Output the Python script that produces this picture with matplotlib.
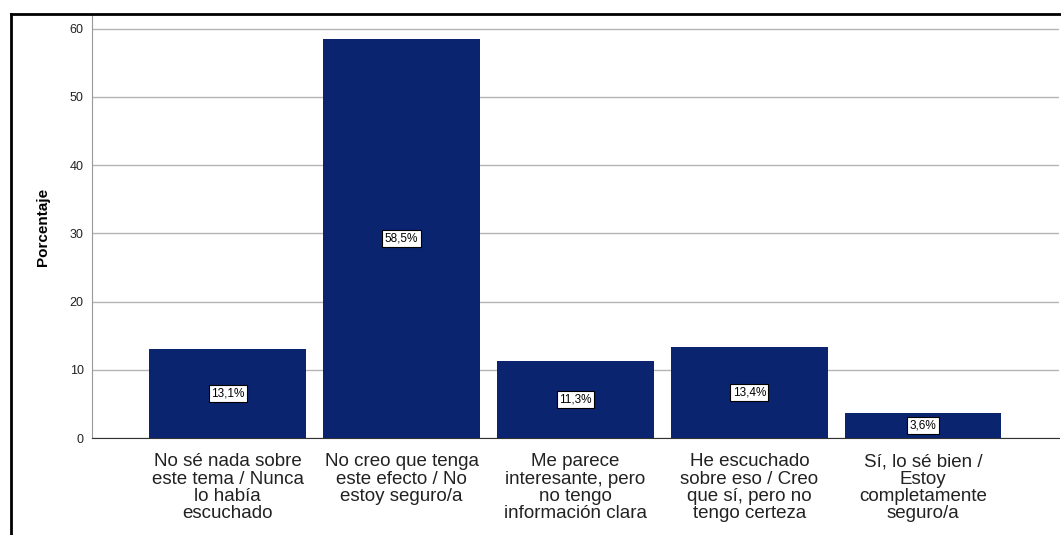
import matplotlib.pyplot as plt
from matplotlib.lines import Line2D

categories = [
    "No sé nada sobre\neste tema / Nunca\nlo había\nescuchado",
    "No creo que tenga\neste efecto / No\nestoy seguro/a",
    "Me parece\ninteresante, pero\nno tengo\ninformación clara",
    "He escuchado\nsobre eso / Creo\nque sí, pero no\ntengo certeza",
    "Sí, lo sé bien /\nEstoy\ncompletamente\nseguro/a",
]
values = [13.1, 58.5, 11.3, 13.4, 3.6]
yticks = [0, 10, 20, 30, 40, 50, 60]

plt.rcParams['font.family'] = ['Liberation Sans', 'DejaVu Sans']

fig = plt.figure(figsize=(10.61, 5.35), dpi=100)
ax = fig.add_axes([0.0867, 0.1813, 0.9113, 0.7907])

x = list(range(len(values)))
bars = ax.bar(x, values, width=0.9, color='#0b2470', zorder=3)

for b, v in zip(bars, values):
    ax.text(b.get_x() + b.get_width() / 2, v / 2, f"{v:.1f}%".replace('.', ','),
            ha='center', va='center', fontsize=8.5, zorder=4,
            bbox=dict(boxstyle='square,pad=0.2', fc='white', ec='black', lw=0.8))

ax.set_xlim(-0.78, 4.78)
ax.set_ylim(0, 62)
ax.set_yticks(yticks)
ax.set_yticklabels([str(t) for t in yticks], fontsize=9, color='#222222')
ax.set_xticks(x)
ax.set_xticklabels(categories, fontsize=13.5, linespacing=1.02, color='#222222')
ax.tick_params(axis='both', length=0)
ax.tick_params(axis='y', pad=6)
ax.tick_params(axis='x', pad=11)
ax.grid(axis='y', color='#b4b4b4', lw=1, zorder=0)
ax.set_ylabel("Porcentaje", fontsize=11, fontweight='bold', labelpad=14)

for s in ['top', 'right']:
    ax.spines[s].set_visible(False)
ax.spines['left'].set_color('#999999')
ax.spines['bottom'].set_color('#333333')

# outer frame
fig.add_artist(Line2D([0.0104, 1.0], [0.9738, 0.9738], color='black', lw=2, transform=fig.transFigure))
fig.add_artist(Line2D([0.0104, 0.0104], [0.0, 0.9738], color='black', lw=2, transform=fig.transFigure))

plt.savefig("out.png", dpi=100)
